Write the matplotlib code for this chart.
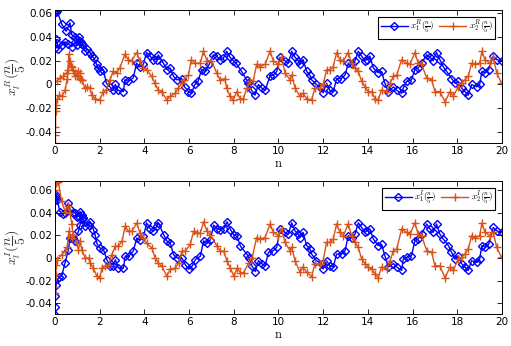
"""Two-panel time series of x_1, x_2 (real and imaginary parts)."""

import numpy as np
import matplotlib
matplotlib.use('Agg')
import matplotlib.pyplot as plt
from matplotlib import rc

rc('mathtext', fontset='cm')

# ---- top panel: real parts -------------------------------------------------
x1R_t = [0, 0.05, 0.1, 0.15, 0.3, 0.45, 0.6, 0.75, 0.9, 1.0, 1.1, 1.2, 1.27, 1.35, 1.45,
         1.57, 1.65, 1.75, 1.86, 1.93, 2.0, 2.16, 2.3, 2.46, 2.6, 2.7, 2.83, 3.06, 3.13,
         3.28, 3.5, 3.65, 3.8, 3.95, 4.1, 4.25, 4.4, 4.55, 4.62, 4.85, 5.0, 5.15, 5.3,
         5.44, 5.67, 5.8, 5.97, 6.1, 6.26, 6.4, 6.56, 6.7, 6.9, 7.08, 7.23, 7.38, 7.53,
         7.68, 7.83, 7.98, 8.1, 8.35, 8.57, 8.65, 8.8, 8.95, 9.1, 9.25, 9.4, 9.62, 9.77,
         9.92, 10.07, 10.29, 10.44, 10.59, 10.74, 10.88, 10.96, 11.1, 11.26, 11.4, 11.48,
         11.7, 11.85, 12.0, 12.15, 12.3, 12.45, 12.6, 12.8, 12.98, 13.12, 13.27, 13.42,
         13.57, 13.72, 13.87, 13.95, 14.09, 14.24, 14.46, 14.61, 14.76, 14.91, 15.14,
         15.29, 15.51, 15.58, 15.73, 15.95, 16.1, 16.25, 16.4, 16.63, 16.78, 16.92, 17.07,
         17.22, 17.37, 17.52, 17.74, 17.9, 18.04, 18.19, 18.34, 18.49, 18.64, 18.87, 19.0,
         19.1, 19.24, 19.4, 19.61, 19.76, 19.98]
x1R_v = [0.031, 0.038, 0.035, 0.030, 0.033, 0.036, 0.034, 0.032, 0.036, 0.033, 0.037, 0.034,
         0.033, 0.028, 0.030, 0.027, 0.024, 0.022, 0.017, 0.014, 0.011, 0.0126, 0.001, -0.002,
         -0.005, 0.0, -0.005, -0.006, 0.004, 0.0026, 0.0055, 0.018, 0.015, 0.017, 0.027,
         0.024, 0.021, 0.021, 0.025, 0.018, 0.0126, 0.014, 0.007, 0.004, 0.005, -0.002,
         -0.006, -0.0075, 0.0, 0.0026, 0.0126, 0.011, 0.017, 0.025, 0.024, 0.021, 0.022,
         0.028, 0.023, 0.020, 0.018, 0.011, 0.004, 0.001, -0.005, -0.009, 0.0, -0.003,
         -0.005, 0.007, 0.008, 0.011, 0.023, 0.020, 0.018, 0.028, 0.023, 0.020, 0.017,
         0.021, 0.011, 0.008, 0.004, 0.0, -0.002, -0.007, 0.001, -0.005, -0.006, 0.005,
         0.005, 0.008, 0.018, 0.017, 0.020, 0.028, 0.024, 0.020, 0.021, 0.024, 0.014,
         0.010, 0.011, 0.001, -0.006, -0.002, -0.005, -0.0075, -0.003, 0.0026, 0.004,
         0.0126, 0.014, 0.018, 0.025, 0.023, 0.020, 0.027, 0.021, 0.015, 0.011, 0.005,
         0.001, 0.0026, -0.003, -0.006, -0.009, 0.0, -0.002, 0.0, 0.011, 0.010, 0.0126,
         0.024, 0.021, 0.020]
# second early branch of x1R (before the two branches merge)
x1R_bt = [0, 0.04, 0.1, 0.3, 0.5, 0.67, 0.75, 0.9, 1.07, 1.15, 1.2]
x1R_bv = [0.062, 0.061, 0.062, 0.051, 0.045, 0.052, 0.042, 0.040, 0.040, 0.036, 0.034]

x2R_t = [0, 0.01, 0.02, 0.04, 0.06, 0.1, 0.2, 0.3, 0.45, 0.55, 0.62, 0.7, 0.8, 0.9, 1.0,
         1.1, 1.2, 1.34, 1.45, 1.57, 1.64, 1.8, 2.0, 2.16, 2.3, 2.46, 2.6, 2.76, 2.9, 3.13,
         3.28, 3.43, 3.65, 3.8, 3.95, 4.1, 4.32, 4.47, 4.62, 4.77, 5.0, 5.15, 5.37, 5.52,
         5.67, 5.75, 5.97, 6.1, 6.26, 6.5, 6.64, 6.8, 7.0, 7.23, 7.38, 7.6, 7.68, 7.83,
         7.98, 8.13, 8.28, 8.43, 8.58, 8.72, 8.87, 9.02, 9.17, 9.4, 9.62, 9.77, 9.99, 10.14,
         10.29, 10.51, 10.59, 10.74, 10.96, 11.1, 11.26, 11.48, 11.63, 11.85, 12.0, 12.15,
         12.3, 12.45, 12.6, 12.75, 12.9, 13.12, 13.27, 13.42, 13.57, 13.72, 13.87, 14.02,
         14.17, 14.31, 14.46, 14.61, 14.84, 14.99, 15.14, 15.29, 15.51, 15.73, 15.88, 16.1,
         16.25, 16.4, 16.63, 16.85, 17.0, 17.22, 17.45, 17.67, 17.82, 18.04, 18.19, 18.34,
         18.49, 18.64, 18.79, 19.0, 19.1, 19.24, 19.46, 19.61, 19.76, 19.98]
x2R_v = [-0.049, -0.043, -0.036, -0.022, -0.017, -0.012, -0.009, -0.010, -0.005, 0.005,
         0.0255, 0.016, 0.012, 0.007, 0.008, 0.005, 0.004, -0.003, -0.002, -0.003, -0.009,
         -0.012, -0.013, -0.006, -0.0046, 0.004, 0.011, 0.010, 0.014, 0.0255, 0.021, 0.020,
         0.027, 0.020, 0.014, 0.0126, 0.007, 0.001, -0.0046, -0.006, -0.013, -0.010,
         -0.0075, -0.003, 0.001, 0.004, 0.008, 0.021, 0.018, 0.018, 0.028, 0.020, 0.020,
         0.010, 0.004, 0.005, -0.003, -0.010, -0.013, -0.006, -0.012, -0.012, -0.003,
         0.0026, 0.003, 0.017, 0.015, 0.017, 0.028, 0.020, 0.017, 0.023, 0.010, 0.004,
         0.008, -0.003, -0.010, -0.0075, -0.012, -0.013, -0.003, -0.003, 0.0, 0.0126,
         0.0126, 0.015, 0.027, 0.021, 0.020, 0.027, 0.018, 0.014, 0.011, 0.0026, -0.002,
         -0.006, -0.006, -0.012, -0.013, -0.0046, -0.006, 0.001, 0.007, 0.008, 0.021, 0.018,
         0.017, 0.027, 0.018, 0.017, 0.0055, 0.004, -0.006, -0.006, -0.0146, -0.006, -0.010,
         -0.002, 0.001, 0.004, 0.007, 0.018, 0.017, 0.018, 0.028, 0.021, 0.018, 0.023,
         0.010, 0.001]
x2R_bt = [0.07, 0.22, 0.37, 0.52, 0.6, 0.67, 0.75, 0.9, 0.97, 1.05, 1.12, 1.2]
x2R_bv = [0.0026, 0.0054, 0.007, 0.0097, 0.012, 0.020, 0.015, 0.010, 0.007, 0.011, 0.010, 0.004]

# ---- bottom panel: imaginary parts -----------------------------------------
x1I_t = [0, 0.01, 0.02, 0.05, 0.1, 0.2, 0.3, 0.45, 0.6, 0.67, 0.8, 0.9, 1.05, 1.12, 1.2,
         1.27, 1.35, 1.5, 1.57, 1.72, 1.8, 1.87, 2.0, 2.17, 2.32, 2.47, 2.6, 2.7, 2.84,
         3.06, 3.14, 3.29, 3.5, 3.66, 3.8, 3.96, 4.1, 4.26, 4.4, 4.56, 4.63, 4.86, 5.0,
         5.16, 5.3, 5.46, 5.68, 5.83, 5.98, 6.13, 6.28, 6.5, 6.65, 6.8, 6.95, 7.1, 7.25,
         7.4, 7.55, 7.7, 7.85, 8.0, 8.15, 8.3, 8.6, 8.67, 8.82, 8.97, 9.1, 9.25, 9.4, 9.55,
         9.77, 9.92, 10.07, 10.29, 10.44, 10.59, 10.74, 10.88, 10.96, 11.1, 11.26, 11.4,
         11.48, 11.7, 11.93, 12.0, 12.15, 12.3, 12.45, 12.6, 12.83, 12.98, 13.12, 13.27,
         13.42, 13.57, 13.72, 13.87, 13.95, 14.09, 14.24, 14.46, 14.61, 14.76, 14.91,
         15.14, 15.29, 15.51, 15.58, 15.73, 15.95, 16.1, 16.25, 16.4, 16.63, 16.78, 16.92,
         17.07, 17.22, 17.37, 17.6, 17.74, 17.9, 18.04, 18.19, 18.34, 18.49, 18.64, 18.87,
         19.0, 19.1, 19.24, 19.4, 19.61, 19.76, 19.98]
x1I_v = [-0.050, -0.043, -0.034, -0.024, -0.019, -0.017, -0.016, -0.0044, 0.0074, 0.0176,
         0.0176, 0.015, 0.0235, 0.029, 0.034, 0.035, 0.028, 0.029, 0.032, 0.025, 0.020,
         0.013, 0.009, 0.0074, -0.0015, -0.0074, -0.0074, -0.0015, -0.009, -0.009, 0.0015,
         0.0015, 0.006, 0.0176, 0.016, 0.019, 0.031, 0.026, 0.0235, 0.028, 0.031, 0.0206,
         0.015, 0.013, 0.003, 0.0, 0.0, -0.006, -0.010, -0.0074, -0.0015, 0.0015, 0.015,
         0.013, 0.016, 0.029, 0.026, 0.025, 0.026, 0.032, 0.025, 0.0206, 0.019, 0.0103,
         0.003, 0.0, -0.0074, -0.012, -0.0024, -0.005, -0.007, 0.005, 0.0065, 0.0094,
         0.0256, 0.0226, 0.021, 0.031, 0.024, 0.021, 0.018, 0.0226, 0.011, 0.008, 0.0035,
         -0.0024, -0.005, -0.0097, -0.0024, -0.007, -0.008, 0.0035, 0.0035, 0.0065, 0.0197,
         0.018, 0.021, 0.031, 0.027, 0.0226, 0.024, 0.0256, 0.0168, 0.011, 0.012, 0.002,
         -0.008, -0.005, -0.008, -0.011, -0.001, 0.0006, 0.002, 0.015, 0.0168, 0.021, 0.030,
         0.0256, 0.0226, 0.030, 0.021, 0.0168, 0.011, 0.005, -0.001, 0.002, -0.005, -0.008,
         -0.011, -0.0024, -0.004, -0.001, 0.011, 0.0094, 0.012, 0.027, 0.024, 0.0226]
x1I_bt = [0, 0.03, 0.06, 0.1, 0.22, 0.37, 0.45, 0.6, 0.67, 0.82, 0.9, 1.0, 1.05, 1.12, 1.2, 1.27]
x1I_bv = [0.051, 0.054, 0.056, 0.051, 0.041, 0.039, 0.040, 0.0485, 0.043, 0.040, 0.040,
          0.036, 0.037, 0.041, 0.038, 0.035]

x2I_t = [0, 0.01, 0.03, 0.06, 0.1, 0.3, 0.45, 0.55, 0.62, 0.75, 0.82, 0.97, 1.05, 1.12,
         1.2, 1.35, 1.5, 1.57, 1.72, 1.87, 2.0, 2.1, 2.24, 2.4, 2.54, 2.7, 2.84, 3.0, 3.14,
         3.29, 3.44, 3.66, 3.8, 3.96, 4.1, 4.33, 4.48, 4.63, 4.78, 5.0, 5.16, 5.38, 5.53,
         5.68, 5.83, 6.05, 6.2, 6.35, 6.5, 6.65, 6.8, 6.95, 7.25, 7.4, 7.55, 7.7, 7.85, 8.0,
         8.15, 8.3, 8.44, 8.67, 8.82, 9.02, 9.17, 9.4, 9.62, 9.77, 9.99, 10.14, 10.29,
         10.51, 10.59, 10.74, 10.96, 11.1, 11.26, 11.48, 11.63, 11.85, 12.0, 12.15, 12.3,
         12.45, 12.6, 12.75, 12.9, 13.12, 13.27, 13.42, 13.57, 13.72, 13.87, 14.02, 14.17,
         14.31, 14.46, 14.61, 14.84, 14.99, 15.14, 15.29, 15.51, 15.73, 15.88, 16.1, 16.25,
         16.4, 16.63, 16.85, 17.0, 17.22, 17.45, 17.67, 17.82, 18.04, 18.19, 18.34, 18.49,
         18.64, 18.79, 19.0, 19.1, 19.24, 19.46, 19.61, 19.76, 19.98]
x2I_v = [-0.031, -0.026, -0.015, -0.006, -0.0015, 0.003, 0.006, 0.010, 0.0235, 0.0176,
         0.020, 0.013, 0.0074, 0.015, 0.0074, 0.0, 0.0, -0.0044, -0.009, -0.016, -0.0176,
         -0.009, -0.0074, -0.006, 0.003, 0.0103, 0.0103, 0.015, 0.028, 0.0235, 0.0235,
         0.031, 0.022, 0.0176, 0.013, 0.009, 0.0, -0.0044, -0.0074, -0.016, -0.010, -0.009,
         -0.0044, 0.006, 0.006, 0.012, 0.0235, 0.022, 0.022, 0.032, 0.0235, 0.0206, 0.0103,
         0.006, 0.006, -0.003, -0.009, -0.016, -0.009, -0.013, -0.013, -0.0044, 0.0,
         0.018, 0.0168, 0.018, 0.030, 0.0226, 0.0197, 0.0256, 0.0138, 0.0065, 0.0094,
         -0.0024, -0.0126, -0.008, -0.0126, -0.0165, -0.005, -0.005, -0.0024, 0.0138,
         0.0138, 0.0168, 0.030, 0.0226, 0.0197, 0.030, 0.0197, 0.0138, 0.0094, -0.001,
         -0.005, -0.008, -0.0097, -0.014, -0.0177, -0.008, -0.0097, -0.0024, 0.0065, 0.008,
         0.0256, 0.0226, 0.021, 0.031, 0.021, 0.0197, 0.0065, 0.005, -0.007, -0.007,
         -0.0177, -0.008, -0.011, -0.001, 0.0006, 0.0035, 0.008, 0.0197, 0.018, 0.0197,
         0.031, 0.0226, 0.0197, 0.0226, 0.0094, 0.0006]
x2I_bt = [0, 0.04, 0.1, 0.15, 0.3, 0.45, 0.6, 0.67, 0.75, 0.82]
x2I_bv = [0.060, 0.066, 0.068, 0.067, 0.050, 0.041, 0.046, 0.040, 0.030, 0.020]

x_ticks = np.arange(0, 21, 2)
y_ticks = [-0.04, -0.02, 0, 0.02, 0.04, 0.06]

BLUE = '#0000ff'
ORANGE = '#d95319'


def draw_panel(ax, t1, v1, bt1, bv1, t2, v2, bt2, bv2, lab1, lab2, ylab, ylim):
    blue_kw = dict(color=BLUE, marker='D', ms=4.2, mfc='none', mew=1.0, lw=1.0)
    orange_kw = dict(color=ORANGE, marker='+', ms=6, mew=1.0, lw=1.0)
    ax.plot(t1, v1, label=lab1, **blue_kw)
    ax.plot(bt1, bv1, **blue_kw)
    ax.plot(t2, v2, label=lab2, **orange_kw)
    ax.plot(bt2, bv2, **orange_kw)

    ax.set_xlim(0, 20)
    ax.set_ylim(*ylim)
    ax.set_xticks(x_ticks)
    ax.set_yticks(y_ticks)
    ax.set_yticklabels(['-0.04', '-0.02', '0', '0.02', '0.04', '0.06'])
    ax.tick_params(direction='in', top=True, right=True, length=3.5, width=0.6,
                   labelsize=7.5, pad=2)
    for s in ax.spines.values():
        s.set_linewidth(0.7)
    ax.set_xlabel(r'$\mathrm{n}$', fontsize=9, labelpad=1)
    ax.set_ylabel(ylab, fontsize=10, color='#333333')
    ax.yaxis.set_label_coords(-0.06, 0.5)
    leg = ax.legend(loc='upper right', bbox_to_anchor=(0.985, 0.95), ncol=2,
                    fontsize=6.5, handlelength=3.0, columnspacing=0.5, handletextpad=0.3,
                    borderpad=0.25, borderaxespad=0.0, fancybox=False, framealpha=1)
    leg.get_frame().set_edgecolor('black')
    leg.get_frame().set_linewidth(0.8)


fig = plt.figure(figsize=(5.11, 3.46), dpi=100)
fig.patch.set_facecolor('white')
ax1 = fig.add_axes([0.1076, 0.5867, 0.8748, 0.3844])
ax2 = fig.add_axes([0.1076, 0.0925, 0.8748, 0.3844])

draw_panel(ax1, x1R_t, x1R_v, x1R_bt, x1R_bv, x2R_t, x2R_v, x2R_bt, x2R_bv,
           r'$x_1^R(\frac{n}{5})$', r'$x_2^R(\frac{n}{5})$',
           r'$x_l^R(\dfrac{n}{5})$', (-0.0494, 0.0629))
draw_panel(ax2, x1I_t, x1I_v, x1I_bt, x1I_bv, x2I_t, x2I_v, x2I_bt, x2I_bv,
           r'$x_1^I(\frac{n}{5})$', r'$x_2^I(\frac{n}{5})$',
           r'$x_l^I(\dfrac{n}{5})$', (-0.0495, 0.068))

fig.savefig('out.png', dpi=100)
